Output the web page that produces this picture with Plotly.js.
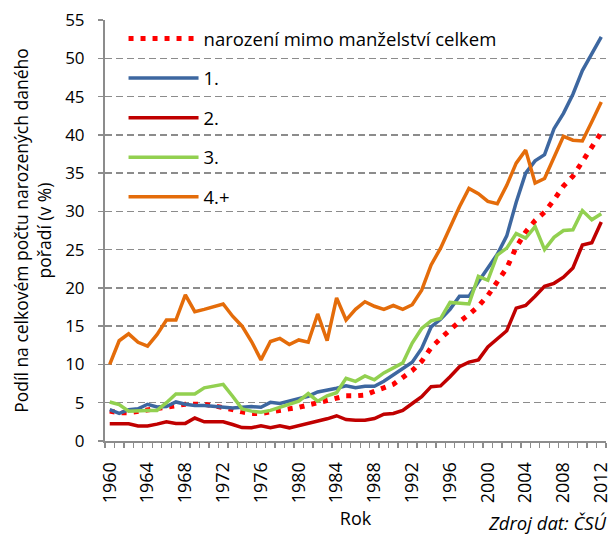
<!DOCTYPE html>
<html>
<head>
<meta charset="utf-8">
<script src="https://cdn.plot.ly/plotly-3.0.1.min.js"></script>
<style>html,body{margin:0;padding:0;background:#fff}#chart{width:612px;height:534px}</style>
</head>
<body>
<div id="chart"></div>
<script>
var years = [];
for (var yr = 1960; yr <= 2012; yr++) years.push(yr);

var tickYears = [1960,1964,1968,1972,1976,1980,1984,1988,1992,1996,2000,2004,2008,2012];

var seriesNames = ["narození mimo manželství celkem", "1.", "2.", "3.", "4.+"];

var mimoManzelstvi = [3.9,3.7,3.7,3.9,4.1,4.3,4.5,4.6,4.8,4.8,4.8,4.6,4.4,4.1,3.8,3.6,3.6,3.8,3.9,4.1,4.4,4.7,5.0,5.4,5.6,5.9,5.9,6.0,6.5,6.9,7.4,8.3,9.2,10.4,12.2,13.4,14.6,15.6,16.5,17.6,19.0,20.9,22.6,25.3,27.3,28.8,29.9,31.5,33.3,34.6,36.6,38.4,40.3];

var poradi1 = [4.1,3.6,4.1,4.2,4.8,4.45,4.5,5.1,4.8,4.65,4.65,4.55,4.4,4.3,4.4,4.5,4.4,5.05,4.9,5.2,5.5,5.85,6.4,6.6,6.9,7.2,6.95,7.15,7.15,7.8,8.65,9.4,10.3,12.1,14.9,15.9,17.2,18.9,18.9,20.8,22.6,24.4,26.8,31.2,35.0,36.6,37.4,40.8,42.8,45.3,48.4,50.6,52.8];

var poradi2 = [2.24,2.24,2.24,1.95,1.95,2.2,2.5,2.3,2.3,3.0,2.5,2.5,2.5,2.15,1.75,1.72,2.0,1.72,2.0,1.72,2.0,2.35,2.65,2.9,3.3,2.8,2.72,2.72,2.94,3.5,3.6,4.0,4.9,5.8,7.1,7.2,8.4,9.7,10.3,10.6,12.3,13.4,14.4,17.35,17.7,18.9,20.2,20.6,21.4,22.6,25.6,25.9,28.6];

var poradi3 = [5.1,4.75,3.9,4.0,4.0,4.0,5.0,6.15,6.15,6.15,6.95,7.15,7.4,5.85,4.2,3.9,3.75,4.0,4.4,4.75,5.2,6.2,5.2,5.9,6.3,8.2,7.8,8.5,8.0,8.9,9.5,10.2,12.8,14.7,15.7,16.0,18.1,18.0,17.9,21.5,21.0,24.3,25.2,27.1,26.5,28.0,25.0,26.6,27.5,27.6,30.1,28.9,29.7];

var poradi4 = [10.0,13.1,14.0,12.9,12.4,13.9,15.8,15.8,19.1,16.9,17.2,17.5,17.9,16.3,15.0,13.0,10.6,13.0,13.4,12.6,13.2,12.9,16.6,13.1,18.7,15.8,17.2,18.2,17.6,17.2,17.7,17.2,17.8,19.7,23.0,25.2,28.0,30.6,33.0,32.3,31.3,31.0,33.4,36.3,38.0,33.7,34.3,37.1,39.8,39.3,39.2,41.7,44.3];

var FONT = "'Open Sans', sans-serif";

function trace(y, name, color, width, dash, grp) {
  return {
    x: years, y: y, name: name, type: 'scatter', mode: 'lines',
    legendgroup: grp,
    line: {color: color, width: width, dash: dash || 'solid'},
    hoverinfo: 'skip'
  };
}

var data = [
  trace(mimoManzelstvi, seriesNames[0], '#FF0000', 5, '5px,7px', 'g0'),
  trace(poradi1, seriesNames[1], '#3D67A0', 3.5, null, 'g1'),
  trace(poradi2, seriesNames[2], '#C00000', 3.5, null, 'g2'),
  trace(poradi3, seriesNames[3], '#92D050', 3.5, null, 'g3'),
  trace(poradi4, seriesNames[4], '#E46C0A', 3.5, null, 'g4')
];

var layout = {
  width: 612, height: 534,
  margin: {l: 105.3, r: 5.6, t: 19.7, b: 92.5, pad: 0},
  paper_bgcolor: '#ffffff', plot_bgcolor: '#ffffff',
  font: {family: FONT, size: 17, color: '#000000'},
  showlegend: true,
  legend: {
    x: 0.037, y: 1.0, xanchor: 'left', yanchor: 'top',
    bgcolor: 'rgba(0,0,0,0)', borderwidth: 0,
    font: {family: FONT, size: 18.5, color: '#000000'},
    tracegroupgap: 12.5, itemwidth: 70
  },
  xaxis: {
    range: [1959.5, 2012.5],
    tickmode: 'array', tickvals: tickYears, ticktext: tickYears.map(String),
    tickangle: -90, ticks: '', showgrid: false, zeroline: false,
    showline: true, linecolor: '#8C8C8C', linewidth: 2,
    ticklabelstandoff: 12, ticklabeloverflow: 'allow',
    tickfont: {family: FONT, size: 18, color: '#000000'},
    minor: {tick0: 1959.5, dtick: 1, ticks: 'outside', ticklen: 5, tickcolor: '#8C8C8C', tickwidth: 1.3, showgrid: false},
    title: {text: 'Rok', font: {family: FONT, size: 18, color: '#000000'}, standoff: 10},
    automargin: false
  },
  yaxis: {
    range: [0, 55], tickmode: 'linear', tick0: 0, dtick: 5,
    showgrid: true, gridcolor: '#8C8C8C', gridwidth: 1.5, griddash: '7px,4px',
    zeroline: false, showline: true, linecolor: '#8C8C8C', linewidth: 2,
    ticks: 'outside', ticklen: 5, tickcolor: '#8C8C8C', tickwidth: 1.5,
    ticklabelstandoff: 10,
    tickfont: {family: FONT, size: 17, color: '#000000'},
    title: {text: 'Podíl na celkovém počtu narozených daného<br>pořadí (v %)', font: {family: FONT, size: 17.5, color: '#000000'}, standoff: 9},
    automargin: false
  },
  annotations: [{
    xref: 'paper', yref: 'paper', x: 1.006, y: -0.194,
    xanchor: 'right', yanchor: 'middle', showarrow: false,
    text: '<i>Zdroj dat: ČSÚ</i>',
    font: {family: FONT, size: 18.5, color: '#000000'}
  }]
};

Plotly.newPlot('chart', data, layout, {displayModeBar: false, staticPlot: true});
</script>
</body>
</html>
